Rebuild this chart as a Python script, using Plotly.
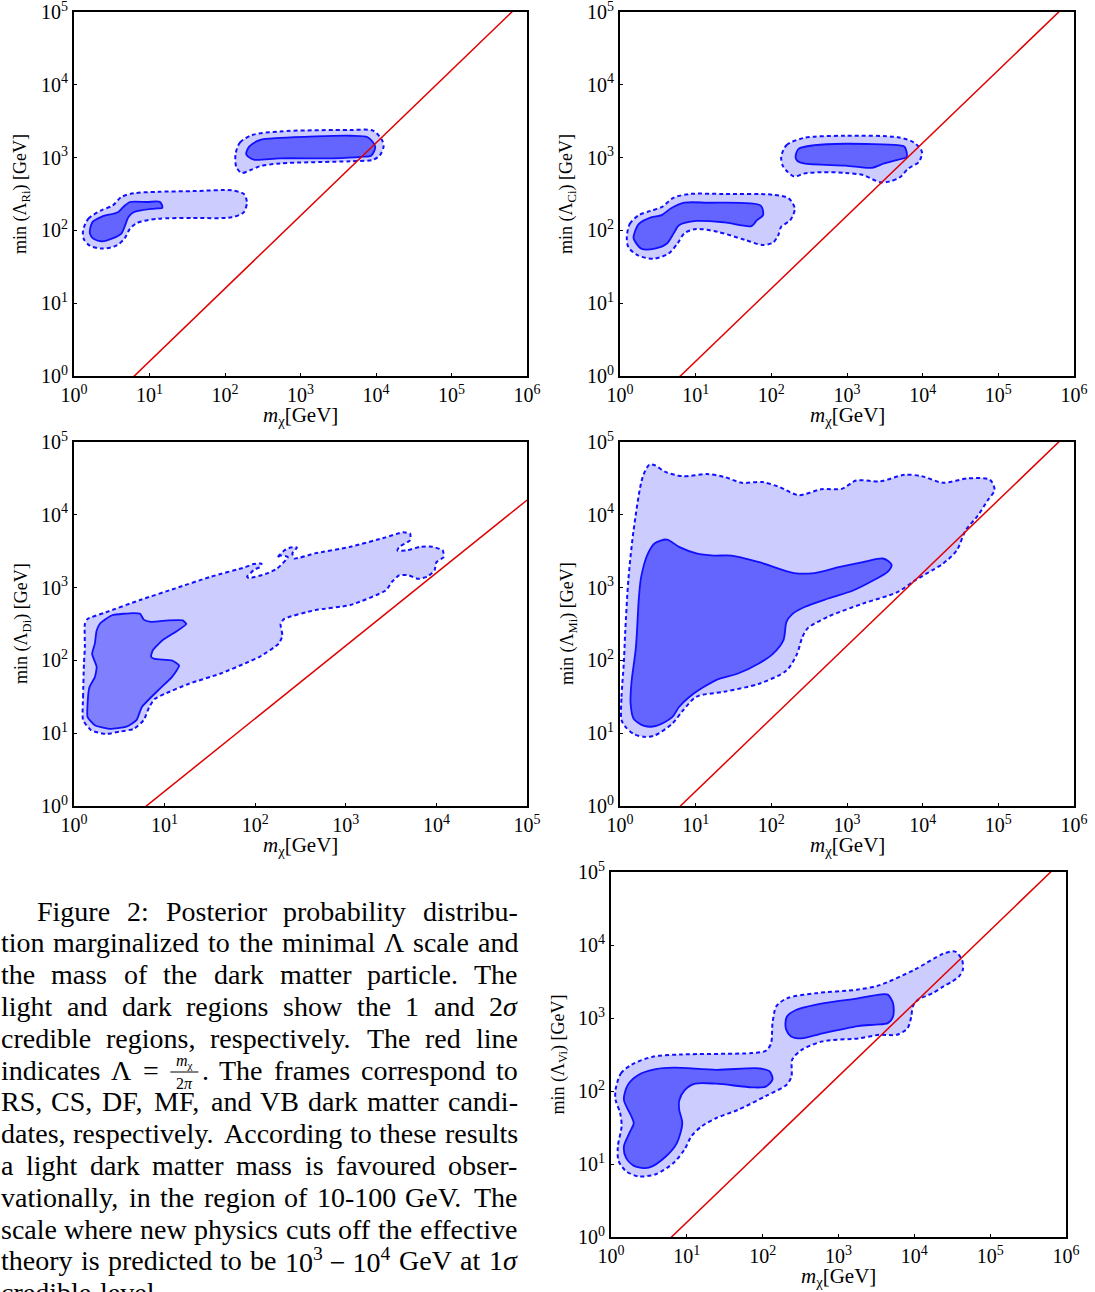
import math
import plotly.graph_objects as go

FIG_W, FIG_H = 1095, 1292

# ---------------------------------------------------------------- data
# contour vertices as (log10 m_chi [GeV], log10 min(Lambda) [GeV])
RS_OUTER_LOW = [(0.12, 2.0), (0.19, 2.16), (0.37, 2.28), (0.51, 2.34), (0.63, 2.46), (0.79, 2.51),
                (1.11, 2.53), (1.58, 2.54), (2.09, 2.55), (2.25, 2.5), (2.29, 2.39), (2.25, 2.25),
                (2.09, 2.18), (1.58, 2.17), (1.11, 2.16), (0.83, 2.1), (0.74, 2.02), (0.67, 1.89),
                (0.56, 1.79), (0.37, 1.75), (0.21, 1.79), (0.13, 1.88)]
RS_INNER_LOW = [(0.21, 2.0), (0.25, 2.12), (0.37, 2.19), (0.58, 2.25), (0.65, 2.32), (0.74, 2.39),
                (0.97, 2.39), (1.14, 2.39), (1.17, 2.31), (1.07, 2.30), (0.79, 2.25), (0.72, 2.18),
                (0.67, 2.05), (0.63, 1.96), (0.51, 1.89), (0.37, 1.85), (0.25, 1.89), (0.21, 1.96)]
RS_OUTER_HIGH = [(2.14, 3.05), (2.2, 3.21), (2.36, 3.31), (2.73, 3.36), (3.66, 3.38), (3.96, 3.37),
                 (4.08, 3.24), (4.1, 3.15), (4.05, 3.03), (3.96, 2.97), (3.66, 2.95), (2.73, 2.92),
                 (2.46, 2.88), (2.34, 2.83), (2.22, 2.79), (2.15, 2.87)]
RS_INNER_HIGH = [(2.28, 3.05), (2.32, 3.15), (2.46, 3.24), (2.73, 3.27), (3.66, 3.30), (3.89, 3.28),
                 (3.99, 3.15), (3.94, 3.03), (3.8, 3.01), (3.43, 2.99), (2.73, 2.99), (2.39, 2.97),
                 (2.31, 3.01)]

CS_OUTER_LOW = [(0.09, 1.91), (0.13, 2.09), (0.25, 2.21), (0.41, 2.27), (0.55, 2.32), (0.71, 2.45),
                (0.92, 2.5), (1.38, 2.5), (2.02, 2.49), (2.23, 2.44), (2.31, 2.30), (2.25, 2.14),
                (2.13, 2.05), (2.09, 1.93), (2.02, 1.83), (1.88, 1.80), (1.65, 1.87), (1.29, 1.98),
                (1.01, 2.02), (0.85, 1.96), (0.76, 1.82), (0.64, 1.68), (0.44, 1.61), (0.23, 1.66),
                (0.11, 1.77)]
CS_INNER_LOW = [(0.19, 1.96), (0.25, 2.09), (0.41, 2.18), (0.55, 2.21), (0.67, 2.30), (0.85, 2.38),
                (1.15, 2.38), (1.86, 2.34), (1.89, 2.21), (1.81, 2.14), (1.74, 2.06), (1.38, 2.11),
                (1.01, 2.13), (0.78, 2.07), (0.71, 1.96), (0.62, 1.82), (0.46, 1.75), (0.28, 1.75),
                (0.18, 1.89)]
CS_OUTER_HIGH = [(2.13, 3.01), (2.2, 3.17), (2.43, 3.27), (2.98, 3.30), (3.67, 3.28), (3.88, 3.21),
                 (3.99, 3.08), (3.95, 2.94), (3.81, 2.85), (3.70, 2.73), (3.56, 2.67), (3.44, 2.66),
                 (3.21, 2.76), (2.98, 2.79), (2.66, 2.80), (2.43, 2.78), (2.30, 2.74), (2.2, 2.82),
                 (2.15, 2.89)]
CS_INNER_HIGH = [(2.32, 3.01), (2.36, 3.12), (2.57, 3.17), (2.98, 3.19), (3.67, 3.17), (3.76, 3.15),
                 (3.79, 3.01), (3.67, 2.97), (3.49, 2.92), (3.33, 2.86), (2.98, 2.89), (2.43, 2.92),
                 (2.34, 2.96)]

DF_OUTER = [(0.10, 1.18), (0.10, 1.50), (0.11, 1.96), (0.12, 2.18), (0.12, 2.50), (0.15, 2.57),
            (0.35, 2.66), (0.73, 2.83), (1.12, 2.99), (1.51, 3.15), (1.89, 3.28), (1.97, 3.32),
            (2.07, 3.33), (2.05, 3.28), (1.99, 3.25), (1.95, 3.20), (1.91, 3.15), (1.93, 3.13),
            (2.12, 3.19), (2.24, 3.26), (2.36, 3.42), (2.28, 3.44), (2.24, 3.41), (2.32, 3.51),
            (2.39, 3.55), (2.46, 3.55), (2.41, 3.47), (2.43, 3.40), (2.66, 3.47), (3.05, 3.56),
            (3.44, 3.69), (3.63, 3.76), (3.71, 3.74), (3.71, 3.65), (3.59, 3.56), (3.57, 3.51),
            (3.67, 3.51), (3.82, 3.56), (3.96, 3.56), (4.07, 3.51), (4.08, 3.42), (4.0, 3.35),
            (3.98, 3.24), (3.90, 3.15), (3.80, 3.12), (3.69, 3.17), (3.59, 3.17), (3.51, 3.08),
            (3.44, 2.96), (3.05, 2.76), (2.66, 2.69), (2.32, 2.57), (2.28, 2.50), (2.30, 2.34),
            (2.26, 2.23), (2.05, 2.05), (1.89, 1.96), (1.62, 1.82), (1.27, 1.68), (1.00, 1.54),
            (0.89, 1.47), (0.83, 1.36), (0.77, 1.18), (0.66, 1.06), (0.50, 1.02), (0.35, 0.99),
            (0.19, 1.04)]
DF_INNER = [(0.15, 1.22), (0.15, 1.41), (0.17, 1.63), (0.23, 1.77), (0.25, 1.91), (0.20, 2.09),
            (0.23, 2.23), (0.25, 2.41), (0.29, 2.51), (0.42, 2.62), (0.66, 2.65), (0.73, 2.64),
            (0.77, 2.56), (0.85, 2.53), (1.04, 2.55), (1.20, 2.55), (1.24, 2.50), (1.12, 2.39),
            (0.98, 2.28), (0.87, 2.14), (0.85, 2.05), (0.89, 2.02), (1.08, 2.00), (1.16, 1.93),
            (1.08, 1.77), (0.93, 1.59), (0.75, 1.36), (0.69, 1.18), (0.58, 1.09), (0.39, 1.06),
            (0.23, 1.11)]

MF_OUTER = [(0.02, 1.18), (0.02, 1.50), (0.05, 1.96), (0.07, 2.41), (0.11, 3.10), (0.18, 3.79),
            (0.30, 4.52), (0.39, 4.69), (0.46, 4.68), (0.60, 4.59), (0.83, 4.53), (1.15, 4.56),
            (1.38, 4.52), (1.61, 4.44), (1.88, 4.45), (2.11, 4.38), (2.36, 4.27), (2.66, 4.35),
            (2.94, 4.36), (3.12, 4.47), (3.44, 4.46), (3.76, 4.55), (3.99, 4.53), (4.27, 4.44),
            (4.60, 4.50), (4.89, 4.48), (4.95, 4.34), (4.86, 4.20), (4.73, 3.99), (4.57, 3.79),
            (4.45, 3.51), (4.27, 3.33), (4.13, 3.24), (3.90, 3.10), (3.67, 2.94), (3.21, 2.78),
            (2.75, 2.60), (2.48, 2.44), (2.41, 2.32), (2.34, 2.09), (2.20, 1.86), (1.84, 1.68),
            (1.38, 1.57), (1.01, 1.50), (0.83, 1.31), (0.69, 1.13), (0.46, 0.97), (0.32, 0.95),
            (0.18, 0.99), (0.07, 1.09)]
MF_INNER = [(0.14, 1.41), (0.15, 1.68), (0.21, 2.18), (0.25, 2.87), (0.28, 3.15), (0.37, 3.47),
            (0.46, 3.61), (0.62, 3.66), (0.78, 3.56), (1.01, 3.47), (1.24, 3.44), (1.47, 3.44),
            (1.84, 3.35), (2.30, 3.20), (2.57, 3.20), (2.89, 3.28), (3.21, 3.35), (3.47, 3.40),
            (3.54, 3.37), (3.59, 3.31), (3.54, 3.22), (3.35, 3.10), (3.08, 2.96), (2.75, 2.85),
            (2.43, 2.73), (2.27, 2.63), (2.20, 2.53), (2.16, 2.28), (2.02, 2.09), (1.84, 1.96),
            (1.56, 1.82), (1.29, 1.74), (1.10, 1.63), (0.92, 1.50), (0.78, 1.36), (0.69, 1.22),
            (0.48, 1.10), (0.32, 1.10), (0.18, 1.20)]

VB_OUTER = [(0.06, 2.02), (0.13, 2.24), (0.27, 2.36), (0.55, 2.47), (0.92, 2.50), (1.86, 2.52),
            (2.04, 2.55), (2.11, 2.65), (2.13, 2.93), (2.18, 3.16), (2.32, 3.27), (2.70, 3.34),
            (3.26, 3.39), (3.54, 3.45), (4.00, 3.66), (4.38, 3.88), (4.54, 3.91), (4.63, 3.79),
            (4.64, 3.66), (4.59, 3.57), (4.50, 3.50), (4.38, 3.43), (4.24, 3.34), (4.05, 3.25),
            (3.98, 3.16), (3.96, 3.02), (3.91, 2.86), (3.77, 2.77), (3.54, 2.77), (3.26, 2.72),
            (2.79, 2.68), (2.51, 2.56), (2.39, 2.43), (2.38, 2.20), (2.32, 2.09), (2.04, 1.93),
            (1.67, 1.74), (1.39, 1.63), (1.20, 1.52), (1.06, 1.38), (0.97, 1.20), (0.83, 1.02),
            (0.59, 0.86), (0.36, 0.83), (0.20, 0.90), (0.10, 1.04), (0.09, 1.24), (0.14, 1.52),
            (0.12, 1.70), (0.06, 1.88)]
VB_INNER_LOW = [(0.17, 1.88), (0.22, 2.08), (0.36, 2.22), (0.59, 2.30), (0.83, 2.32), (1.39, 2.29),
                (1.95, 2.31), (2.09, 2.27), (2.13, 2.16), (2.04, 2.06), (1.86, 2.05), (1.39, 2.10),
                (1.11, 2.10), (0.97, 2.01), (0.90, 1.87), (0.90, 1.74), (0.94, 1.56), (0.87, 1.29),
                (0.73, 1.11), (0.50, 0.95), (0.31, 0.97), (0.20, 1.08), (0.17, 1.24), (0.24, 1.42),
                (0.30, 1.56), (0.27, 1.65)]
VB_INNER_HIGH = [(2.30, 2.93), (2.32, 3.02), (2.44, 3.11), (2.79, 3.20), (3.26, 3.27), (3.54, 3.32),
                 (3.65, 3.32), (3.72, 3.20), (3.72, 3.02), (3.65, 2.93), (3.49, 2.91), (3.26, 2.89),
                 (2.79, 2.79), (2.51, 2.72), (2.37, 2.75), (2.31, 2.84)]

PANEL_LABELS = ["Ri", "Ci", "Di", "Mi", "Vi"]
X_DECADES = [6, 6, 5, 6, 6]
Y_DECADES = 5
RED_LINE_M = [1.0, 1.0e6]          # GeV, line Lambda = m / (2 pi)

CAPTION_LINES = [
    ["Figure", "2:", "Posterior", "probability", "distribu-"],
    "tion marginalized to the minimal Λ scale and".split(),
    "the mass of the dark matter particle. The".split(),
    "light and dark regions show the 1 and".split() + [("2<i>σ</i>", "2σ")],
    "credible regions, respectively. The red line".split(),
    ["indicates", "Λ", "=", "FRAC", "The", "frames", "correspond", "to"],
    "RS, CS, DF, MF, and VB dark matter candi-".split(),
    "dates, respectively. According to these results".split(),
    "a light dark matter mass is favoured obser-".split(),
    "vationally, in the region of 10-100 GeV. The".split(),
    "scale where new physics cuts off the effective".split(),
    ["theory", "is", "predicted", "to", "be", "SUPRANGE", "GeV", "at", ("1<i>σ</i>", "1σ")],
    "credible level.".split(),
]

# ---------------------------------------------------------------- styles / layout
LIGHT = "#ccccff"
DARK = "#6464ff"
DARK_DF = "#8080ff"
EDGE = "#1010ff"
SERIF = "Liberation Serif, Times New Roman, DejaVu Serif, serif"

# panel frames in pixels: (left, top, right, bottom)
FRAMES = [(74, 12, 527, 376), (620, 12, 1074, 376), (74, 442, 527, 806),
          (620, 442, 1074, 806), (611, 872, 1066, 1237)]
PANEL_CONTOURS = [
    [(RS_OUTER_LOW, RS_INNER_LOW), (RS_OUTER_HIGH, RS_INNER_HIGH)],
    [(CS_OUTER_LOW, CS_INNER_LOW), (CS_OUTER_HIGH, CS_INNER_HIGH)],
    [(DF_OUTER, DF_INNER)],
    [(MF_OUTER, MF_INNER)],
    [(VB_OUTER, None)],
]
EXTRA_INNER = {4: [VB_INNER_LOW, VB_INNER_HIGH]}


def px(x):
    return x / FIG_W


def py(y):
    return 1 - y / FIG_H


fig = go.Figure()


def poly_trace(pts, xa, ya, fill, dash, width, smooth=0.7):
    xs = [10 ** a for a, b in pts] + [10 ** pts[0][0]]
    ys = [10 ** b for a, b in pts] + [10 ** pts[0][1]]
    return go.Scatter(x=xs, y=ys, xaxis=xa, yaxis=ya, mode="lines", fill="toself",
                      fillcolor=fill,
                      line=dict(color=EDGE, width=width, dash=dash, shape="spline", smoothing=smooth),
                      hoverinfo="skip", showlegend=False)


layout_axes = {}
annotations = []
shapes = []
for i, (l, t, r, b) in enumerate(FRAMES):
    n = i + 1
    xa = "x" if n == 1 else f"x{n}"
    ya = "y" if n == 1 else f"y{n}"
    dark = DARK_DF if i == 2 else DARK
    sm = 0.5 if i == 2 else 0.8
    for outer, inner in PANEL_CONTOURS[i]:
        fig.add_trace(poly_trace(outer, xa, ya, LIGHT, "4px,3px", 2.0, sm))
        if inner is not None:
            fig.add_trace(poly_trace(inner, xa, ya, dark, "solid", 1.8, sm))
    for inner in EXTRA_INNER.get(i, []):
        fig.add_trace(poly_trace(inner, xa, ya, dark, "solid", 1.8, sm))
    # red line
    fig.add_trace(go.Scatter(x=RED_LINE_M, y=[m / (2 * math.pi) for m in RED_LINE_M],
                             xaxis=xa, yaxis=ya, mode="lines",
                             line=dict(color="#e00000", width=1.5),
                             hoverinfo="skip", showlegend=False))
    nd = X_DECADES[i]
    common = dict(type="log", showline=True, linecolor="black", linewidth=2, mirror=True,
                  ticks="inside", ticklen=3, tickwidth=1, tickcolor="black",
                  showgrid=False, zeroline=False, fixedrange=True, automargin=False,
                  ticklabeloverflow="allow",
                  tickfont=dict(family=SERIF, size=20, color="black"))
    layout_axes["xaxis" if n == 1 else f"xaxis{n}"] = dict(
        common, domain=[px(l), px(r)], range=[0, nd], anchor=ya,
        tickvals=[10 ** k for k in range(nd + 1)],
        ticktext=[f"10<sup>{k}</sup>" for k in range(nd + 1)])
    layout_axes["yaxis" if n == 1 else f"yaxis{n}"] = dict(
        common, domain=[py(b), py(t)], range=[0, Y_DECADES], anchor=xa,
        tickvals=[10 ** k for k in range(Y_DECADES + 1)],
        ticktext=[f"10<sup>{k}</sup>" for k in range(Y_DECADES + 1)])
    # axis titles
    annotations.append(dict(text="<i>m</i><sub>χ</sub>[GeV]", x=px((l + r) / 2), y=py(b + 40),
                            xref="paper", yref="paper", showarrow=False,
                            xanchor="center", yanchor="middle",
                            font=dict(family=SERIF, size=21, color="black")))
    annotations.append(dict(text=f"min (Λ<sub>{PANEL_LABELS[i]}</sub>) [GeV]",
                            x=px(l - 52), y=py((t + b) / 2), textangle=-90,
                            xref="paper", yref="paper", showarrow=False,
                            xanchor="center", yanchor="middle",
                            font=dict(family=SERIF, size=18, color="black")))

# ---------------------------------------------------------------- caption text (justified)
CW = {}
for ch, w in zip("abcdefghijklmnopqrstuvwxyz",
                 [444, 500, 444, 500, 444, 333, 500, 500, 278, 278, 500, 278, 778, 500, 500, 500,
                  500, 333, 389, 278, 500, 500, 722, 500, 500, 444]):
    CW[ch] = w
for ch, w in zip("ABCDEFGHIJKLMNOPQRSTUVWXYZ",
                 [722, 667, 667, 722, 611, 556, 722, 722, 333, 389, 722, 611, 889, 722, 722, 556,
                  722, 667, 556, 611, 722, 722, 944, 722, 722, 611]):
    CW[ch] = w
CW.update({" ": 250, ",": 250, ".": 250, ":": 278, "-": 333, "Λ": 722, "σ": 550, "=": 564, "−": 564})
for d in "0123456789":
    CW[d] = 500

CAP_SIZE = 28
CAP_LEFT, CAP_RIGHT, CAP_INDENT = 0, 517, 36
CAP_Y0, CAP_DY = 911, 31.8
FRAC_W = 32


def tw(s, size=CAP_SIZE):
    return sum(CW.get(c, 500) for c in s) * size / 1000


def cap_ann(text, x, y, size=CAP_SIZE, anchor="left"):
    return dict(text=text, x=px(x), y=py(y), xref="paper", yref="paper", showarrow=False,
                xanchor=anchor, yanchor="middle", borderpad=0,
                font=dict(family=SERIF, size=size, color="black"))


nlines = len(CAPTION_LINES)
for li, toks in enumerate(CAPTION_LINES):
    yc = CAP_Y0 + li * CAP_DY
    x0 = CAP_LEFT + (CAP_INDENT if li == 0 else 0)
    widths = []
    for tok in toks:
        if tok == "FRAC":
            widths.append(FRAC_W + tw("."))
        elif tok == "SUPRANGE":
            widths.append(2 * (tw("10") + 0.7 * tw("3")) + tw(" − "))
        elif isinstance(tok, tuple):
            widths.append(tw(tok[1]))
        else:
            widths.append(tw(tok))
    if li < nlines - 1:
        gap = (CAP_RIGHT - x0 - sum(widths)) / (len(toks) - 1)
    else:
        gap = tw(" ") * 1.3
    x = x0
    for tok, w in zip(toks, widths):
        if tok == "FRAC":
            cx = x + FRAC_W / 2
            annotations.append(cap_ann("<i>m</i><sub>χ</sub>", cx, yc - 9, 16, "center"))
            annotations.append(cap_ann("2<i>π</i>", cx, yc + 13, 16, "center"))
            shapes.append(dict(type="line", xref="paper", yref="paper",
                               x0=px(x + 2), x1=px(x + FRAC_W - 2), y0=py(yc + 2), y1=py(yc + 2),
                               line=dict(color="black", width=1)))
            annotations.append(cap_ann(".", x + FRAC_W + 1, yc))
        elif tok == "SUPRANGE":
            annotations.append(cap_ann("10<sup>3</sup> − 10<sup>4</sup>", x, yc))
        elif isinstance(tok, tuple):
            annotations.append(cap_ann(tok[0], x, yc))
        else:
            annotations.append(cap_ann(tok, x, yc))
        x += w + gap

fig.update_layout(
    width=FIG_W, height=FIG_H, autosize=False,
    margin=dict(l=0, r=0, t=0, b=0, pad=0),
    paper_bgcolor="white", plot_bgcolor="white",
    annotations=annotations, shapes=shapes,
    **layout_axes,
)

fig.write_html("out.html", config={"displayModeBar": False},
               post_script="document.body.style.margin='0';")
